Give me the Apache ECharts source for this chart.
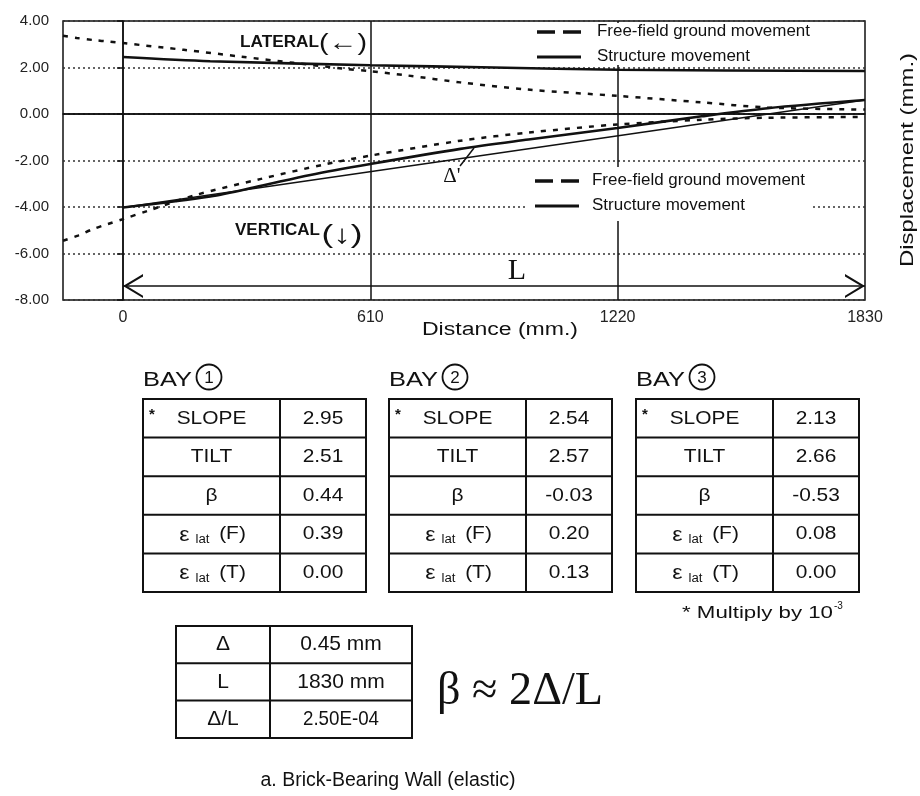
<!DOCTYPE html>
<html><head><meta charset="utf-8">
<script src="https://cdn.jsdelivr.net/npm/echarts@6/dist/echarts.min.js"></script>
<style>html,body{margin:0;padding:0;background:#fff}#c{width:920px;height:796px}</style>
</head><body><div id="c"></div>
<script>
// ---------------- data ----------------
const xTickValues = [0, 610, 1220, 1830];
const ffLatX = [-148, -114, -73, -33, 0, 150, 290, 420, 545, 610, 700, 832, 998, 1220, 1427, 1590, 1830];
const ffLatY = [3.37, 3.27, 3.18, 3.11, 3.05, 2.76, 2.47, 2.2, 1.95, 1.84, 1.66, 1.36, 1.05, 0.78, 0.5, 0.28, 0.19];
const stLatX = [0, 215, 610, 915, 1220, 1830];
const stLatY = [2.45, 2.27, 2.1, 2.0, 1.9, 1.85];
const ffVerX = [-148, -111, -74, -37, 0, 62, 174, 338, 502, 610, 832, 1000, 1220, 1427, 1590, 1830];
const ffVerY = [-5.45, -5.23, -4.95, -4.73, -4.52, -4.16, -3.51, -2.8, -2.15, -1.79, -1.15, -0.8, -0.45, -0.25, -0.16, -0.13];
const stVerX = [0, 215, 338, 462, 610, 832, 1000, 1220, 1427, 1590, 1830];
const stVerY = [-4.02, -3.55, -3.1, -2.62, -2.15, -1.5, -1.1, -0.6, -0.1, 0.25, 0.6];
const chordX = [0, 1830];
const chordY = [-4.02, 0.6];
const spanArrowY = -7.4;
const solidGridX = [0, 610, 1220];

const legendLabels = ['Free-field ground movement', 'Structure movement'];
const bayNumbers = ['1', '2', '3'];
const rowLabels = ['SLOPE', 'TILT', 'β', 'ε', 'ε'];
const strainTags = ['', '', '', '(F)', '(T)'];
const bay1Values = [2.95, 2.51, 0.44, 0.39, 0.00];
const bay2Values = [2.54, 2.57, -0.03, 0.20, 0.13];
const bay3Values = [2.13, 2.66, -0.53, 0.08, 0.00];
const summaryLabels = ['Δ', 'L', 'Δ/L'];
const summaryValues = ['0.45 mm', '1830 mm', '2.50E-04'];

// ---------------- helpers ----------------
const SANS = "'Liberation Sans', Arial, Helvetica, sans-serif";
const SERIF = "'Liberation Serif', 'Times New Roman', serif";
const INK = '#111';
const meas = document.createElement('canvas').getContext('2d');
const zip = (xs, ys) => xs.map((x, i) => [x, ys[i]]);

function T(text, x, y, size, o) {
  o = o || {};
  const font = (o.bold ? 'bold ' : 'normal ') + size + 'px ' + (o.serif ? SERIF : SANS);
  meas.font = font;
  const w = meas.measureText(text).width;
  const sx = o.w ? o.w / w : (o.sx || 1);
  return {
    type: 'text', x: x, y: y, scaleX: sx, rotation: o.rot || 0, z: 60, silent: true,
    style: { text: text, font: font, fill: o.color || INK,
      textAlign: o.align || 'center', textVerticalAlign: 'middle' }
  };
}
function L(x1, y1, x2, y2, w, z) {
  return { type: 'line', z: z || 60, silent: true, shape: { x1, y1, x2, y2 },
    style: { stroke: INK, lineWidth: w || 2 } };
}
function R(x, y, w, h, fill, stroke, lw) {
  return { type: 'rect', z: 50, silent: true, shape: { x, y, width: w, height: h },
    style: { fill: fill || 'none', stroke: stroke || null, lineWidth: lw || 0 } };
}

// ---------------- graphic layer ----------------
const g = [];
g.push(R(527, 23, 336, 42, '#fff'));
g.push(R(527, 167, 285, 54, '#fff'));
function legend(x0, yA, yB, xt) {
  g.push(L(x0, yA, x0 + 18, yA, 3.5), L(x0 + 26, yA, x0 + 44, yA, 3.5));
  g.push(L(x0, yB, x0 + 44, yB, 3));
  g.push(T(legendLabels[0], xt, yA, 16, { align: 'left', w: 213 }));
  g.push(T(legendLabels[1], xt, yB, 16, { align: 'left', w: 153 }));
}
legend(537, 32, 57, 597);
legend(535, 181, 206, 592);

g.push(T('LATERAL', 240, 43, 16, { bold: true, align: 'left', w: 79 }));
g.push(T('(←)', 343, 43, 24, { w: 48 }));
g.push(T('VERTICAL', 235, 231, 16, { bold: true, align: 'left', w: 85 }));
g.push(T('(↓)', 342, 236, 26, { w: 41 }));
g.push(T("Δ'", 452, 176, 21, { serif: true }));
g.push(L(460, 166, 474, 148, 1.5));
g.push(T('L', 517, 271, 30, { serif: true }));
g.push(T('Distance (mm.)', 422, 330, 18, { align: 'left', w: 156 }));
g.push(T('Displacement (mm.)', 908, 160, 18, { rot: Math.PI / 2, w: 214 }));

// bay tables
const bayX = [143, 389, 636];
const bayVals = [bay1Values, bay2Values, bay3Values];
const colW = [137, 86];
const rowTop = 399, rowH = 38.6;
bayX.forEach((bx, b) => {
  g.push(T('BAY', bx, 380, 21, { align: 'left', w: 49 }));
  g.push({ type: 'circle', z: 60, silent: true, shape: { cx: bx + 66, cy: 377, r: 12.5 },
    style: { fill: 'none', stroke: INK, lineWidth: 1.8 } });
  g.push(T(bayNumbers[b], bx + 66, 378, 17));
  const tw = colW[0] + colW[1], th = rowH * 5;
  g.push(R(bx, rowTop, tw, th, 'none', INK, 2));
  g.push(L(bx + colW[0], rowTop, bx + colW[0], rowTop + th, 2));
  for (let r = 1; r < 5; r++) g.push(L(bx, rowTop + r * rowH, bx + tw, rowTop + r * rowH, 2));
  const c1 = bx + colW[0] / 2, c2 = bx + colW[0] + colW[1] / 2;
  rowLabels.forEach((lab, r) => {
    const cy = rowTop + (r + 0.5) * rowH;
    if (strainTags[r]) {
      g.push(T(lab, c1 - 27, cy + 1, 21, { sx: 1.1 }));
      g.push(T('lat', c1 - 9, cy + 6, 12, { sx: 1.1 }));
      g.push(T(strainTags[r], c1 + 21, cy, 19, { sx: 1.1 }));
    } else {
      g.push(T(lab, c1, cy, 19, { sx: 1.1 }));
    }
    if (r === 0) g.push(T('*', bx + 9, cy - 3, 15, { bold: true }));
    g.push(T(bayVals[b][r].toFixed(2), c2, cy, 19, { sx: 1.1 }));
  });
});
g.push(T('* Multiply by 10', 682, 613, 17, { align: 'left', w: 151 }));
g.push(T('-3', 834, 606, 10, { align: 'left' }));

// summary table
const sx0 = 176, sCol = [94, 142], sTop = 626, sRowH = 37.3;
g.push(R(sx0, sTop, sCol[0] + sCol[1], sRowH * 3, 'none', INK, 2));
g.push(L(sx0 + sCol[0], sTop, sx0 + sCol[0], sTop + sRowH * 3, 2));
for (let r = 1; r < 3; r++) g.push(L(sx0, sTop + r * sRowH, sx0 + sCol[0] + sCol[1], sTop + r * sRowH, 2));
summaryLabels.forEach((lab, r) => {
  const cy = sTop + (r + 0.5) * sRowH;
  g.push(T(lab, sx0 + sCol[0] / 2, cy, 21));
  g.push(T(summaryValues[r], sx0 + sCol[0] + sCol[1] / 2, cy, 21, { w: r === 2 ? 76 : undefined }));
});
g.push(T('β ≈ 2Δ/L', 520, 692, 46, { serif: true, w: 166 }));
g.push(T('a. Brick-Bearing Wall (elastic)', 388, 780, 20, { w: 255 }));

// ---------------- chart ----------------
const dashed = { type: [5, 7], width: 2.5, color: INK };
const solid = { type: 'solid', width: 2.6, color: INK };
const chevL = 'path://M20,0 L0,12 L20,24 L20,21.6 L4,12 L20,2.4 Z';
const chevR = 'path://M0,0 L20,12 L0,24 L0,21.6 L16,12 L0,2.4 Z';

const option = {
  animation: false,
  backgroundColor: '#fff',
  grid: { left: 63, top: 21, width: 802, height: 279, show: true,
    borderColor: INK, borderWidth: 1.5 },
  xAxis: {
    type: 'value', min: -148, max: 1830,
    axisLine: { show: true, lineStyle: { color: INK, width: 1.5 } },
    axisTick: { show: false }, splitLine: { show: false },
    axisLabel: { customValues: xTickValues, formatter: v => String(v), fontSize: 16, color: '#222', margin: 10, fontFamily: SANS }
  },
  yAxis: {
    type: 'value', min: -8, max: 4, interval: 2,
    axisLine: { show: true, lineStyle: { color: INK, width: 1.5 } },
    axisTick: { show: true, length: 6, lineStyle: { color: INK, width: 1.5 } },
    splitLine: { show: true, lineStyle: { type: [2, 3], color: '#333', width: 1.5 } },
    axisLabel: { formatter: v => v.toFixed(2), fontSize: 15, color: '#222', margin: 14, fontFamily: SANS }
  },
  series: [
    { name: 'ffLat', type: 'line', data: zip(ffLatX, ffLatY), smooth: 0.3, showSymbol: false, lineStyle: dashed, z: 5 },
    { name: 'stLat', type: 'line', data: zip(stLatX, stLatY), smooth: 0.3, showSymbol: false, lineStyle: solid, z: 5 },
    { name: 'ffVer', type: 'line', data: zip(ffVerX, ffVerY), smooth: 0.3, showSymbol: false, lineStyle: dashed, z: 5 },
    { name: 'stVer', type: 'line', data: zip(stVerX, stVerY), smooth: 0.3, showSymbol: false, lineStyle: solid, z: 5 },
    { name: 'chord', type: 'line', data: zip(chordX, chordY), showSymbol: false,
      lineStyle: { type: 'solid', width: 1.6, color: INK }, z: 5,
      markLine: {
        silent: true, symbol: 'none', label: { show: false }, animation: false,
        lineStyle: { type: 'solid', color: INK, width: 1.5 },
        data: solidGridX.map(v => ({ xAxis: v })).concat([{ yAxis: 0 },
          [{ coord: [0, spanArrowY] }, { coord: [xTickValues[3], spanArrowY] }]])
      },
      markPoint: {
        silent: true, label: { show: false }, animation: false,
        itemStyle: { color: INK },
        data: [
          { coord: [0, spanArrowY], symbol: chevL, symbolSize: [20, 24], symbolOffset: [10, 0] },
          { coord: [xTickValues[3], spanArrowY], symbol: chevR, symbolSize: [20, 24], symbolOffset: [-10, 0] }
        ]
      }
    }
  ],
  graphic: { elements: g }
};
const chart = echarts.init(document.getElementById('c'), null, { renderer: 'canvas' });
chart.setOption(option);
</script></body></html>
